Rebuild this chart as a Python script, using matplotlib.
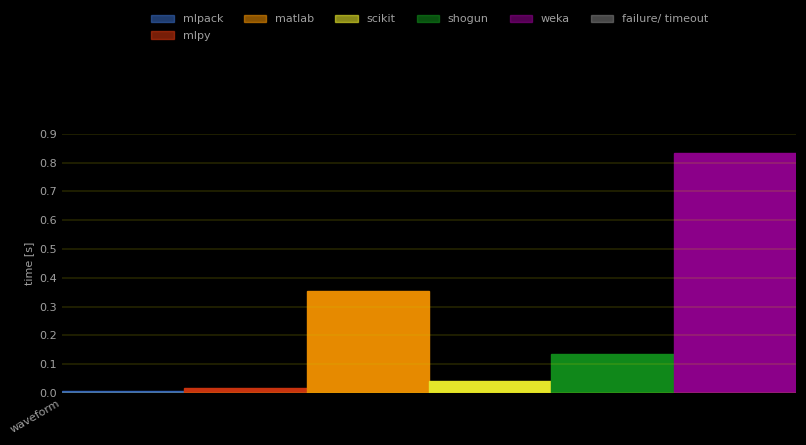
import matplotlib
matplotlib.use("Agg")
import matplotlib.pyplot as plt
from matplotlib.patches import Patch

categories = ["waveform"]
libraries = ["mlpack", "mlpy", "matlab", "scikit", "shogun", "weka"]
values = [0.007, 0.016, 0.354, 0.043, 0.135, 0.833]
colors = ["#3565b8", "#c8330f", "#e68a00", "#e5e52a", "#10881a", "#8b0089"]
legend_labels = ["mlpack", "mlpy", "matlab", "scikit", "shogun", "weka", "failure/ timeout"]
legend_colors = ["#3565b8", "#c8330f", "#e68a00", "#e5e52a", "#10881a", "#8b0089", "#777777"]
yticks = [0.0, 0.1, 0.2, 0.3, 0.4, 0.5, 0.6, 0.7, 0.8, 0.9]

fig = plt.figure(figsize=(8.06, 4.45), dpi=100, facecolor="#000000")
ax = fig.add_axes([62/806, 52/445, 734/806, (0.9*288)/445])
ax.set_facecolor("#000000")

n = len(libraries)
for i, (lib, v, c) in enumerate(zip(libraries, values, colors)):
    ax.bar(i, v, width=1.0, align="edge", color=c, edgecolor=c, linewidth=1, zorder=2)

ax.set_xlim(0, n)
ax.set_ylim(0, 0.9)
ax.set_yticks(yticks)
ax.set_yticklabels([f"{t:.1f}" for t in yticks])
ax.set_xticks([0])
ax.set_xticklabels(categories, rotation=30, ha="right")
ax.yaxis.grid(True, color="#c8c800", alpha=0.18, linewidth=1.2, zorder=3)
ax.set_axisbelow(False)
for s in ax.spines.values():
    s.set_visible(False)
ax.tick_params(axis="both", colors="#a0a0a0", labelsize=8, length=0)
ax.set_ylabel("time [s]", color="#a0a0a0", fontsize=8)

handles = [Patch(facecolor=c, edgecolor=c, alpha=0.6) for c in legend_colors]
fig.legend(handles, legend_labels, loc="upper center", bbox_to_anchor=(430/806, 0.99),
           ncol=6, frameon=False, fontsize=8, labelcolor="#a0a0a0",
           handlelength=2.0, handleheight=0.7, columnspacing=1.9, handletextpad=0.8,
           labelspacing=0.55)

fig.savefig("out.png", dpi=100, facecolor=fig.get_facecolor())
